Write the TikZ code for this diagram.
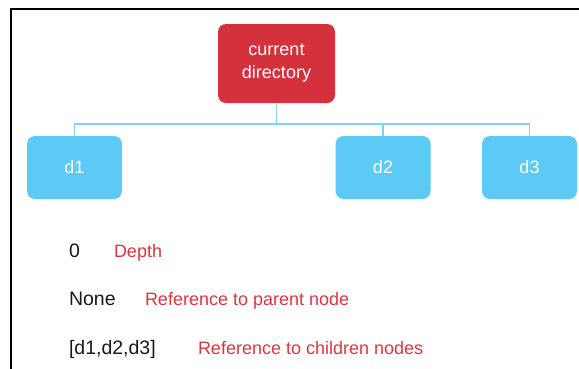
\documentclass[tikz,border=0pt]{standalone}
\usepackage{fontspec}
\setmainfont{Liberation Sans}
\usepackage{tikz}
\usetikzlibrary{positioning}
\definecolor{dirred}{RGB}{212,49,61}
\definecolor{dirblue}{RGB}{91,203,245}
\definecolor{linkblue}{RGB}{125,212,245}
\definecolor{notered}{RGB}{217,55,63}

\begin{document}
\begin{tikzpicture}[x=1pt,y=-1pt,
  every node/.style={font=\fontsize{18}{23}\selectfont, inner sep=0pt, outer sep=0pt},
  root/.style={fill=dirred, text=white, rounded corners=8pt, minimum width=117pt, minimum height=79pt, align=center},
  leaf/.style={fill=dirblue, text=white, rounded corners=8pt, minimum width=95pt, minimum height=63pt},
  link/.style={draw=linkblue, line width=1.2pt},
  value/.style={anchor=base west, text=black!90, font=\fontsize{19.5}{23}\selectfont},
  note/.style={anchor=base west, text=notered}]
\useasboundingbox (0,0) rectangle (579,368);
% frame round the tree
\draw[line width=2.5pt] (11,369) -- (11,9) -- (580,9);

% Tree
\node[root] (cur) at (276.5,63.5) {current\\directory};
\node[leaf] (d1) at (74.5,167.5) {d1};
\node[leaf] (d2) at (383,167.5) {d2};
\node[leaf] (d3) at (529.5,167.5) {d3};

% Links to children
\coordinate (bus) at ([yshift=-21pt]cur.south);
\draw[link] (cur.south) -- (bus);
\draw[link] (bus) -| (d1.north);
\draw[link] (bus) -| (d2.north);
\draw[link] (bus) -| (d3.north);

% Fields of the node
\node[value] (depth) at (69,257) {0};
\node[note] (depthnote) at (114,257) {Depth};
\node[value] (parent) at (69,305) {None};
\node[note] (parentnote) at (145,305) {Reference to parent node};
\node[value] (children) at (69,354) {[d1,d2,d3]};
\node[note] (childrennote) at (198,354) {Reference to children nodes};
\end{tikzpicture}
\end{document}
